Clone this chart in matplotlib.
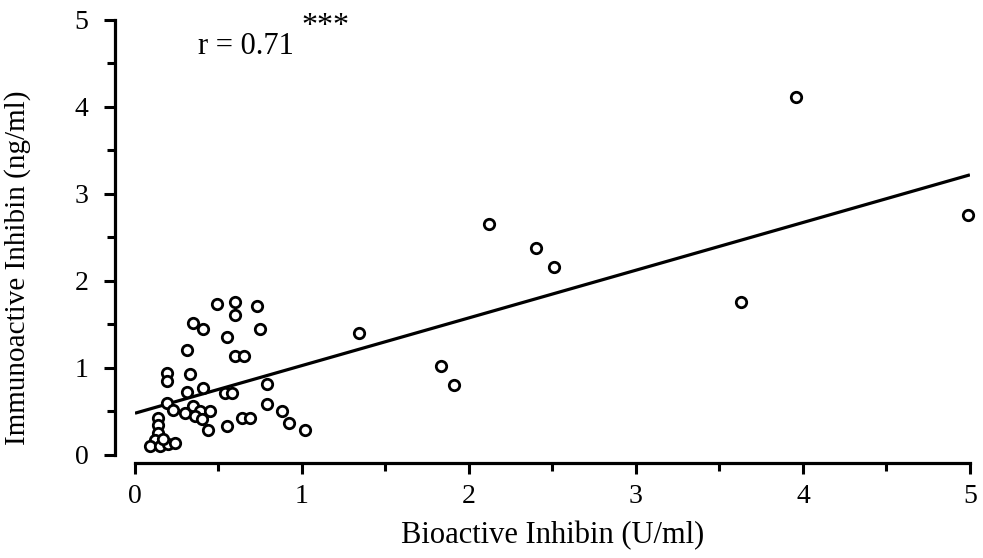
import matplotlib
matplotlib.use("Agg")
import matplotlib.pyplot as plt
import numpy as np
from matplotlib.ticker import MultipleLocator

plt.rcParams["font.family"] = ["Liberation Serif", "DejaVu Serif"]

# bioactive (U/ml) vs immunoactive (ng/ml) inhibin
bio = [
    0.49, 0.60, 0.60, 0.73, 0.35, 0.41, 0.75, 0.55, 0.31, 0.60, 0.65,
    0.19, 0.19, 0.33, 0.79, 0.41, 0.31, 0.54, 0.58, 0.19, 0.79, 0.23,
    0.30, 0.35, 0.39, 0.45, 0.36, 0.40, 0.88, 0.92, 1.02, 0.44, 0.55,
    0.64, 0.69, 0.14, 0.14, 0.14, 0.12, 0.09, 0.15, 0.20, 0.24, 0.17,
    1.34, 1.83, 1.91, 2.12, 2.40, 2.51, 3.63, 3.96, 4.99,
]
immuno = [
    1.74, 1.76, 1.61, 1.71, 1.52, 1.45, 1.45, 1.36, 1.21, 1.14, 1.14,
    0.94, 0.85, 0.93, 0.82, 0.77, 0.72, 0.71, 0.71, 0.60, 0.59, 0.52,
    0.48, 0.56, 0.50, 0.51, 0.45, 0.41, 0.51, 0.37, 0.29, 0.29, 0.33,
    0.42, 0.42, 0.42, 0.35, 0.25, 0.17, 0.10, 0.10, 0.13, 0.14, 0.18,
    1.40, 1.02, 0.80, 2.65, 2.38, 2.16, 1.76, 4.12, 2.76,
]
fit_x = [0, 5]
fit_y = [0.48, 3.22]

fig = plt.figure(figsize=(9.83, 5.58), dpi=100)
ax = fig.add_axes([0.1373, 0.1846, 0.8494, 0.7796])

ax.plot(fit_x, fit_y, color="black", lw=2.3, solid_capstyle="butt", zorder=2)
ax.plot(bio, immuno, "o", mfc="white", mec="black", ms=7.5, mew=2.0,
        clip_on=False, zorder=3)

ax.set_xlim(0, 5)
ax.set_ylim(0, 5)
ax.xaxis.set_major_locator(MultipleLocator(1))
ax.yaxis.set_major_locator(MultipleLocator(1))
ax.xaxis.set_minor_locator(MultipleLocator(0.5))
ax.yaxis.set_minor_locator(MultipleLocator(0.5))

for s in ("top", "right"):
    ax.spines[s].set_visible(False)
ax.spines["left"].set_position(("outward", 14.5))
ax.spines["bottom"].set_position(("outward", 5.8))
for s in ("left", "bottom"):
    ax.spines[s].set_linewidth(2.3)
    ax.spines[s].set_bounds(0, 5)
    ax.spines[s].set_capstyle("projecting")

ax.tick_params(which="major", length=8, width=2.2, labelsize=20)
ax.tick_params(axis="y", which="major", pad=11)
ax.tick_params(axis="x", which="major", pad=7)
ax.tick_params(which="minor", length=6, width=2.2)

ax.set_xlabel("Bioactive Inhibin (U/ml)", fontsize=22, labelpad=9)
ax.set_ylabel("Immunoactive Inhibin (ng/ml)", fontsize=21)
ax.yaxis.set_label_coords(-0.125, 0.43)

ax.text(0.376, 4.70, "r = 0.71", fontsize=22, va="center", ha="left")
ax.text(0.995, 4.93, "***", fontsize=23, va="center", ha="left")

fig.savefig("out.png", dpi=100)
